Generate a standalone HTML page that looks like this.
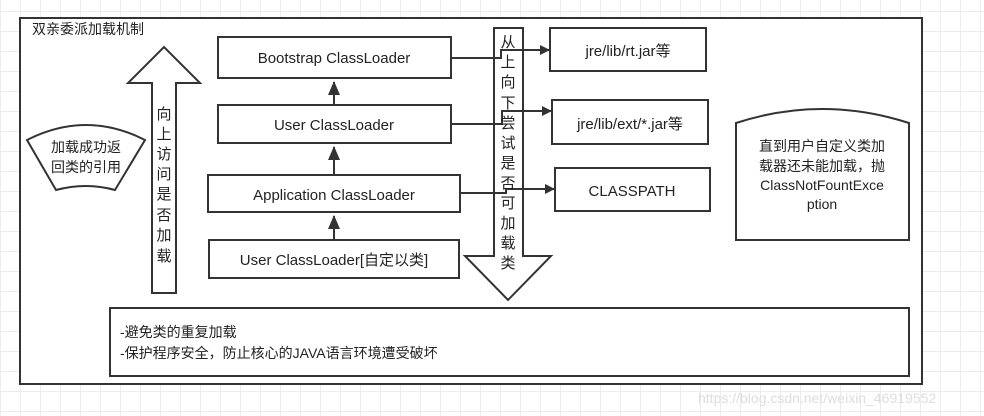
<!DOCTYPE html>
<html><head><meta charset="utf-8"><style>
html,body{margin:0;padding:0;}
body{width:984px;height:416px;overflow:hidden;background:#fff;
background-image:linear-gradient(#ececec 1px,transparent 1px),linear-gradient(90deg,#ececec 1px,transparent 1px);
background-size:20px 20px;background-position:0 11px;}
svg text{font-family:"Liberation Sans","Noto Sans CJK SC",sans-serif;fill:#222;}
</style></head><body>
<svg width="984" height="416" xmlns="http://www.w3.org/2000/svg" style="position:absolute;left:0;top:0">
<defs><marker id="a" markerWidth="10" markerHeight="10" refX="9" refY="5" orient="auto" markerUnits="userSpaceOnUse"><path d="M0,0 L10,5 L0,10 z" fill="#333"/></marker>
<marker id="b" markerWidth="14" markerHeight="12" refX="13" refY="6" orient="auto" markerUnits="userSpaceOnUse"><path d="M0,0 L14,6 L0,12 z" fill="#333"/></marker></defs>
<g stroke="#333" stroke-width="2" fill="#fff">
<rect x="20" y="18" width="902" height="366"/>
<rect x="218" y="37" width="233" height="41"/>
<rect x="218" y="105" width="233" height="38"/>
<rect x="208" y="175" width="252" height="37"/>
<rect x="209" y="240" width="250" height="38"/>
<path d="M152,293 L152,83 L128,83 L164,47 L200,83 L176,83 L176,293 Z"/>
<path d="M27,140 Q86,110 145,140 L115,190 Q86,182 56,190 Z"/>
<rect x="550" y="28" width="156" height="43"/>
<rect x="552" y="100" width="156" height="44"/>
<rect x="555" y="168" width="155" height="43"/>
<path d="M736,123 Q822,95 909,123 L909,240 L736,240 Z"/>
<rect x="110" y="308" width="799" height="68"/>
<path d="M494,28 L523,28 L523,256 L551,256 L508,300 L465,256 L494,256 Z"/>
</g>
<g stroke="#333" stroke-width="2" fill="none">
<line x1="334" y1="105" x2="334" y2="82" marker-end="url(#b)"/>
<line x1="334" y1="175" x2="334" y2="147" marker-end="url(#b)"/>
<line x1="334" y1="240" x2="334" y2="216" marker-end="url(#b)"/>
<polyline points="451,58 501,58 501,50 549,50" marker-end="url(#a)"/>
<polyline points="451,124 502,124 502,111 551,111" marker-end="url(#a)"/>
<polyline points="460,193 506,193 506,189 554,189" marker-end="url(#a)"/>
</g>
<g font-size="15">
<text x="32" y="34" font-size="14">双亲委派加载机制</text>
<text x="334" y="63" text-anchor="middle">Bootstrap ClassLoader</text>
<text x="334" y="130" text-anchor="middle">User ClassLoader</text>
<text x="334" y="200" text-anchor="middle">Application ClassLoader</text>
<text x="334" y="265" text-anchor="middle">User ClassLoader[自定以类]</text>
<text x="628" y="56" text-anchor="middle">jre/lib/rt.jar等</text>
<text x="630" y="129" text-anchor="middle">jre/lib/ext/*.jar等</text>
<text x="632" y="196" text-anchor="middle">CLASSPATH</text>
<text x="86" y="152" text-anchor="middle" font-size="14">加载成功返</text>
<text x="86" y="172" text-anchor="middle" font-size="14">回类的引用</text>
<text x="822" y="151" text-anchor="middle" font-size="14">直到用户自定义类加</text>
<text x="822" y="171" text-anchor="middle" font-size="14">载器还未能加载，抛</text>
<text x="822" y="190" text-anchor="middle" font-size="14">ClassNotFountExce</text>
<text x="822" y="209" text-anchor="middle" font-size="14">ption</text>
<text x="120" y="337" font-size="14">-避免类的重复加载</text>
<text x="120" y="358" font-size="14">-保护程序安全，防止核心的JAVA语言环境遭受破坏</text>
</g>
<g font-size="15" text-anchor="middle">
<text x="164" y="119">向</text><text x="164" y="139">上</text><text x="164" y="159">访</text><text x="164" y="179">问</text><text x="164" y="199">是</text><text x="164" y="220">否</text><text x="164" y="240">加</text><text x="164" y="261">载</text>
<text x="508" y="47">从</text><text x="508" y="67">上</text><text x="508" y="87">向</text><text x="508" y="108">下</text><text x="508" y="128">尝</text><text x="508" y="148">试</text><text x="508" y="168">是</text><text x="508" y="188">否</text><text x="508" y="208">可</text><text x="508" y="228">加</text><text x="508" y="248">载</text><text x="508" y="268">类</text>
</g>
<text x="698" y="403" font-size="14" style="fill:#ddd">https://blog.csdn.net/weixin_46919552</text>
</svg>
</body></html>
